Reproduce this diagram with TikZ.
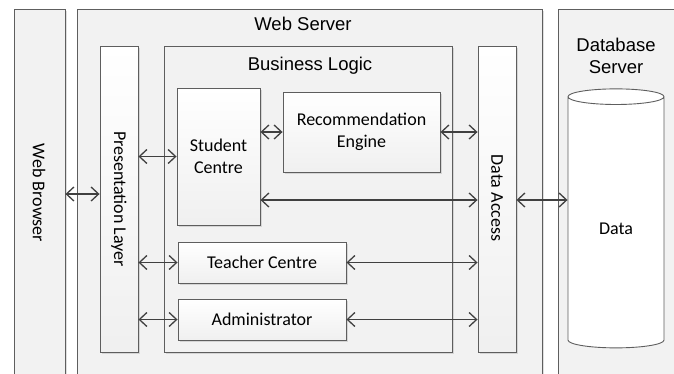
\documentclass[tikz,border=0pt]{standalone}
\usepackage{fontspec}
\setmainfont{Carlito}
\newfontfamily\arialfont{Liberation Sans}
\usetikzlibrary{arrows.meta,shapes.geometric,shadows}

\definecolor{edgec}{HTML}{5E5E5E}
\definecolor{linkc}{HTML}{404040}
\definecolor{panelc}{HTML}{F2F2F2}

\tikzset{
  panel/.style={draw=edgec, line width=0.9pt, fill=panelc, inner sep=0pt,
    drop shadow={shadow xshift=1.5pt, shadow yshift=-1.5pt, opacity=0.25}},
  layer/.style={panel, top color=white, bottom color=gray!12},
  unit/.style={layer, font=\fontsize{18}{22}\selectfont, align=center},
  caption/.style={font=\arialfont\fontsize{18.5}{22.5}\selectfont, align=center},
  vtext/.style={rotate=-90, font=\fontsize{18}{22}\selectfont},
  biarrow/.style={draw=linkc, line width=1.3pt,
    {Straight Barb[length=7.5pt,width=14pt]}-{Straight Barb[length=7.5pt,width=14pt]}}
}

\begin{document}
\begin{tikzpicture}[x=1pt,y=-1pt]
  \useasboundingbox (0,0) rectangle (674,373);
  \clip (0,0) rectangle (674,373);

  % tiers
  \node[panel, minimum width=51pt, minimum height=391pt] (wb) at (39.5,204.5) {};
  \node[panel, minimum width=465pt, minimum height=391pt] (ws) at (309.5,204.5) {};
  \node[panel, minimum width=142pt, minimum height=391pt] (dbs) at (629,204.5) {};
  \node[vtext] (wbtext) at (39,193) {Web Browser};
  \node[caption] (wstext) at (303,24) {Web Server};
  \node[caption] (dbstext) at (616,56) {Database\\Server};

  % layers inside the web server
  \node[layer, minimum width=38pt, minimum height=306pt] (pres) at (119,199) {};
  \node[panel, minimum width=288pt, minimum height=306pt] (bl) at (308,199) {};
  \node[layer, minimum width=38pt, minimum height=306pt] (da) at (497,199) {};
  \node[vtext] (prestext) at (119,199) {Presentation Layer};
  \node[vtext] (datext) at (497,198) {Data Access};
  \node[caption] (bltext) at (310,66) {Business Logic};

  \node[unit, minimum width=83pt, minimum height=137pt] (sc) at (218.5,156.5) {Student\\Centre};
  \node[unit, minimum width=157pt, minimum height=80pt] (rec) at (361.5,132) {Recommendation\\Engine};
  \node[unit, minimum width=168pt, minimum height=41pt] (tc) at (262,262.5) {Teacher Centre};
  \node[unit, minimum width=168pt, minimum height=41pt] (adm) at (262,319.5) {Administrator};

  % database
  \node[cylinder, shape border rotate=90, aspect=0.46, draw=edgec, line width=0.9pt,
    fill=white, inner sep=0pt, minimum width=96pt, minimum height=259pt,
    text height=24pt, font=\fontsize{18}{22}\selectfont] (db) at (616,222.5) {Data};

  \coordinate (brow) at (0,194);
  \coordinate (drow) at (0,200);

  \draw[biarrow] (wb.east |- brow) -- (pres.west |- brow);
  \draw[biarrow] (pres.east |- sc.west) -- (sc.west);
  \draw[biarrow] (sc.east |- rec.west) -- (rec.west);
  \draw[biarrow] (rec.east) -- (da.west |- rec.east);
  \draw[biarrow] (sc.east |- drow) -- (da.west |- drow);
  \draw[biarrow] (pres.east |- tc.west) -- (tc.west);
  \draw[biarrow] (tc.east) -- (da.west |- tc.east);
  \draw[biarrow] (pres.east |- adm.west) -- (adm.west);
  \draw[biarrow] (adm.east) -- (da.west |- adm.east);
  \draw[biarrow] (da.east |- drow) -- (db.west |- drow);
\end{tikzpicture}
\end{document}
